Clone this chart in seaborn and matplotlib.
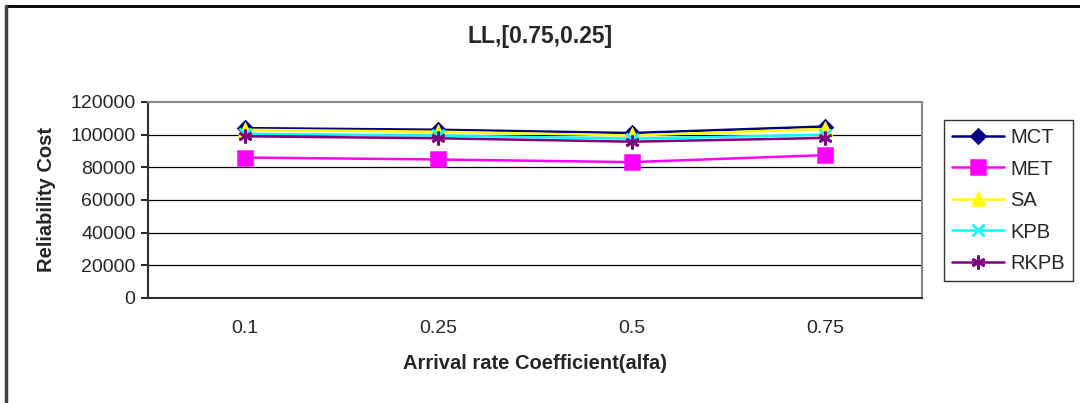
import matplotlib
matplotlib.use("Agg")
import matplotlib.pyplot as plt
import seaborn as sns
import numpy as np
from matplotlib.lines import Line2D

categories = ["0.1", "0.25", "0.5", "0.75"]
mct = [104000, 103000, 101000, 105000]
met = [86000, 84800, 83200, 87500]
sa = [103000, 101800, 99500, 103500]
kpb = [100500, 99500, 97500, 100000]
rkpb = [99000, 97800, 95700, 98000]

title = "LL,[0.75,0.25]"
xlabel = "Arrival rate Coefficient(alfa)"
ylabel = "Reliability Cost"
yticks = [0, 20000, 40000, 60000, 80000, 100000, 120000]

sns.set_style("white")
plt.rcParams['font.family'] = ['Liberation Sans', 'DejaVu Sans']

fig = plt.figure(figsize=(10.8, 4.03), dpi=100)
W, H = 1080, 403
ax = fig.add_axes([148 / W, 1 - 298 / H, (922 - 148) / W, (298 - 102) / H])

series = [
    ("MCT", mct, "#000080", "D", 7.0),
    ("MET", met, "#FF00FF", "s", 10.5),
    ("SA", sa, "#FFFF00", "^", 9.0),
    ("KPB", kpb, "#00FFFF", "x", 8.5),
    ("RKPB", rkpb, "#800080", (6, 2, 0), 10.0),
]
pos = np.arange(len(categories))
for name, vals, col, mk, ms in series:
    sns.lineplot(x=pos, y=vals, ax=ax, color=col, marker=mk, markersize=ms,
                 linewidth=1.8, markeredgecolor=col, markeredgewidth=1.8,
                 label=name, legend=False, errorbar=None)

ax.set_xlim(-0.5, len(categories) - 0.5)
ax.set_ylim(0, 120000)
ax.set_yticks(yticks)
ax.set_yticklabels([str(v) for v in yticks], fontsize=14)
ax.set_xticks(pos)
ax.set_xticklabels(categories, fontsize=14)
ax.set_xticks(np.arange(-0.5, len(categories)), minor=True)
ax.tick_params(axis='x', which='major', length=0, pad=16)
ax.tick_params(axis='x', which='minor', length=5, width=1.2, direction='out', color='black')
ax.tick_params(axis='y', which='major', length=5, width=1.2, direction='out', color='black', pad=4, left=True)
for v in yticks[1:-1]:
    ax.axhline(v, color='black', linewidth=0.9, zorder=0)

for s in ['left', 'bottom']:
    ax.spines[s].set_color('#303030')
    ax.spines[s].set_linewidth(1.5)
for s in ['top', 'right']:
    ax.spines[s].set_color('#888888')
    ax.spines[s].set_linewidth(1.5)

ax.set_xlabel(xlabel, fontsize=14.5, fontweight='bold', labelpad=12)
ax.set_ylabel(ylabel, fontsize=14.5, fontweight='bold', labelpad=10)

fig.text(540 / W, 1 - 37 / H, title, fontsize=16.5, fontweight='bold',
         ha='center', va='center')

handles = [Line2D([0], [0], color=col, marker=mk, markersize=ms, linewidth=1.8,
                  markeredgecolor=col, markeredgewidth=1.8)
           for name, vals, col, mk, ms in series]
leg = fig.legend(handles, [s[0] for s in series], loc='upper left',
                 bbox_to_anchor=(944 / W, 1 - 120 / H), fontsize=14.5,
                 frameon=True, fancybox=False, shadow=False,
                 handlelength=2.6, handletextpad=0.3, labelspacing=0.62,
                 borderpad=0.4, borderaxespad=0)
leg.get_frame().set_edgecolor('black')
leg.get_frame().set_linewidth(1.0)

fig.add_artist(Line2D([6 / W, 1], [1 - 6 / H, 1 - 6 / H], color='black', linewidth=2,
                      transform=fig.transFigure))
fig.add_artist(Line2D([6 / W, 6 / W], [0, 1 - 6 / H], color='#404040', linewidth=2.5,
                      transform=fig.transFigure))

fig.savefig("out.png", dpi=100)
